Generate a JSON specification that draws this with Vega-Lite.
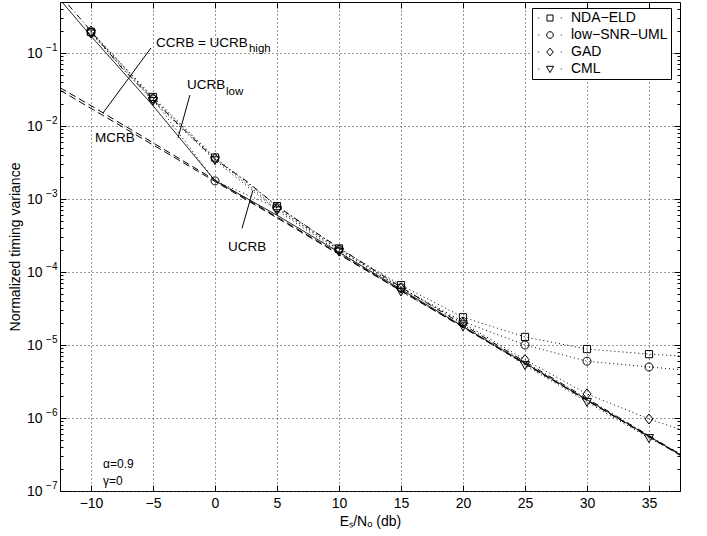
{
  "$schema": "https://vega.github.io/schema/vega-lite/v6.json",
  "width": 620,
  "height": 489,
  "autosize": {"type": "none"},
  "padding": {"left": 60, "top": 2, "right": 27, "bottom": 45},
  "background": "white",
  "config": {
    "font": "Liberation Sans",
    "view": {"stroke": "#000", "strokeWidth": 1},
    "axis": {
      "domain": false,
      "labelFont": "Liberation Sans",
      "labelFontSize": 14,
      "labelColor": "#000",
      "titleFont": "Liberation Sans",
      "titleFontSize": 14,
      "titleFontWeight": "normal",
      "titleColor": "#000",
      "tickColor": "#000",
      "tickWidth": 1,
      "gridColor": "#333",
      "gridDash": [1, 3],
      "gridWidth": 1,
      "labelFlush": false
    }
  },
  "datasets": {
    "est": [
      {"s": "NDA−ELD", "x": -10, "y": 0.195},
      {"s": "NDA−ELD", "x": -5, "y": 0.025},
      {"s": "NDA−ELD", "x": 0, "y": 0.0037},
      {"s": "NDA−ELD", "x": 5, "y": 0.0008},
      {"s": "NDA−ELD", "x": 10, "y": 0.00021},
      {"s": "NDA−ELD", "x": 15, "y": 0.000066},
      {"s": "NDA−ELD", "x": 20, "y": 0.000024},
      {"s": "NDA−ELD", "x": 25, "y": 0.0000129},
      {"s": "NDA−ELD", "x": 30, "y": 0.0000088},
      {"s": "NDA−ELD", "x": 35, "y": 0.0000075},
      {"s": "NDA−ELD", "x": 37.5, "y": 0.0000071},
      {"s": "low−SNR−UML", "x": -10, "y": 0.19},
      {"s": "low−SNR−UML", "x": -5, "y": 0.0235},
      {"s": "low−SNR−UML", "x": 0, "y": 0.00177},
      {"s": "low−SNR−UML", "x": 5, "y": 0.00076},
      {"s": "low−SNR−UML", "x": 10, "y": 0.000205},
      {"s": "low−SNR−UML", "x": 15, "y": 0.000061},
      {"s": "low−SNR−UML", "x": 20, "y": 0.000021},
      {"s": "low−SNR−UML", "x": 25, "y": 0.00001},
      {"s": "low−SNR−UML", "x": 30, "y": 0.000006},
      {"s": "low−SNR−UML", "x": 35, "y": 0.000005},
      {"s": "low−SNR−UML", "x": 37.5, "y": 0.0000046},
      {"s": "GAD", "x": -10, "y": 0.2},
      {"s": "GAD", "x": -5, "y": 0.024},
      {"s": "GAD", "x": 0, "y": 0.0036},
      {"s": "GAD", "x": 5, "y": 0.00074},
      {"s": "GAD", "x": 10, "y": 0.0002},
      {"s": "GAD", "x": 15, "y": 0.00006},
      {"s": "GAD", "x": 20, "y": 0.00002},
      {"s": "GAD", "x": 25, "y": 0.0000063},
      {"s": "GAD", "x": 30, "y": 0.00000214},
      {"s": "GAD", "x": 35, "y": 0.00000097},
      {"s": "GAD", "x": 37.5, "y": 0.0000007},
      {"s": "CML", "x": -10, "y": 0.185},
      {"s": "CML", "x": -5, "y": 0.022},
      {"s": "CML", "x": 0, "y": 0.0034},
      {"s": "CML", "x": 5, "y": 0.0007},
      {"s": "CML", "x": 10, "y": 0.00019},
      {"s": "CML", "x": 15, "y": 0.000054},
      {"s": "CML", "x": 20, "y": 0.000018},
      {"s": "CML", "x": 25, "y": 0.0000053},
      {"s": "CML", "x": 30, "y": 0.00000166},
      {"s": "CML", "x": 35, "y": 0.00000053},
      {"s": "CML", "x": 37.5, "y": 0.00000033}
    ],
    "bnd": [
      {"b": "MCRB", "x": -12.5, "y": 0.031},
      {"b": "MCRB", "x": 37.5, "y": 0.00000031},
      {"b": "CCRB", "x": -12.5, "y": 0.0335},
      {"b": "CCRB", "x": -10, "y": 0.019},
      {"b": "CCRB", "x": -5, "y": 0.0059},
      {"b": "CCRB", "x": 0, "y": 0.00182},
      {"b": "CCRB", "x": 5, "y": 0.000566},
      {"b": "CCRB", "x": 10, "y": 0.000178},
      {"b": "CCRB", "x": 20, "y": 0.0000176},
      {"b": "CCRB", "x": 37.5, "y": 0.000000312},
      {"b": "UCRBlow", "x": -12.5, "y": 0.54},
      {"b": "UCRBlow", "x": -10, "y": 0.17},
      {"b": "UCRBlow", "x": -5, "y": 0.019},
      {"b": "UCRBlow", "x": 0, "y": 0.00178},
      {"b": "UCRBlow", "x": 5, "y": 0.0006},
      {"b": "UCRBlow", "x": 10, "y": 0.000186},
      {"b": "UCRBlow", "x": 20, "y": 0.000018},
      {"b": "UCRBlow", "x": 30, "y": 0.00000178},
      {"b": "UCRBlow", "x": 37.5, "y": 0.000000315},
      {"b": "UCRB", "x": -12.5, "y": 0.62},
      {"b": "UCRB", "x": -10, "y": 0.2},
      {"b": "UCRB", "x": -7.5, "y": 0.062},
      {"b": "UCRB", "x": -5, "y": 0.023},
      {"b": "UCRB", "x": -2.5, "y": 0.0089},
      {"b": "UCRB", "x": 0, "y": 0.0035},
      {"b": "UCRB", "x": 2.5, "y": 0.00178},
      {"b": "UCRB", "x": 5, "y": 0.0008},
      {"b": "UCRB", "x": 7.5, "y": 0.00041},
      {"b": "UCRB", "x": 10, "y": 0.000215},
      {"b": "UCRB", "x": 15, "y": 0.000062},
      {"b": "UCRB", "x": 20, "y": 0.000019},
      {"b": "UCRB", "x": 25, "y": 0.0000059},
      {"b": "UCRB", "x": 30, "y": 0.00000185},
      {"b": "UCRB", "x": 37.5, "y": 0.00000032}
    ],
    "ptr": [
      {"x": -5.16, "y": 0.1175, "x2": -9.03, "y2": 0.0151},
      {"x": -2.02, "y": 0.0266, "x2": -2.98, "y2": 0.0069},
      {"x": 2.18, "y": 0.000398, "x2": 3.06, "y2": 0.00132}
    ],
    "lab": [
      {"t": "CCRB = UCRB", "x": -4.76, "y": 0.138},
      {"t": "UCRB", "x": -2.26, "y": 0.0363},
      {"t": "MCRB", "x": -9.68, "y": 0.00686},
      {"t": "UCRB", "x": 1.05, "y": 0.00022}
    ],
    "sub": [
      {"t": "high", "x": 2.74, "y": 0.1135},
      {"t": "low", "x": 0.89, "y": 0.0292}
    ],
    "par": [
      {"t": "α=0.9", "x": -9.03, "y": 0.000000234},
      {"t": "γ=0", "x": -9.03, "y": 0.000000138}
    ],
    "leg": [
      {"s": "NDA−ELD", "x": 0, "y": 0.000000001},
      {"s": "low−SNR−UML", "x": 0, "y": 0.000000001},
      {"s": "GAD", "x": 0, "y": 0.000000001},
      {"s": "CML", "x": 0, "y": 0.000000001}
    ]
  },
  "layer": [
    {
      "data": {"name": "est"},
      "mark": {"type": "line", "color": "#000", "strokeWidth": 1, "strokeDash": [1, 3], "clip": true},
      "encoding": {
        "x": {
          "field": "x", "type": "quantitative",
          "scale": {"domain": [-12.5, 37.5], "nice": false, "zero": false},
          "axis": {
            "orient": "bottom",
            "values": [-10, -5, 0, 5, 10, 15, 20, 25, 30, 35],
            "grid": true,
            "tickSize": -6,
            "labelPadding": 11,
            "title": "Eₛ/Nₒ (db)",
            "titlePadding": 4
          }
        },
        "y": {
          "field": "y", "type": "quantitative",
          "scale": {"type": "log", "domain": [0.0000001, 0.5], "nice": false},
          "axis": {
            "orient": "left",
            "values": [1e-7, 2e-7, 3e-7, 4e-7, 5e-7, 6e-7, 7e-7, 8e-7, 9e-7, 1e-6, 2e-6, 3e-6, 4e-6, 5e-6, 6e-6, 7e-6, 8e-6, 9e-6, 1e-5, 2e-5, 3e-5, 4e-5, 5e-5, 6e-5, 7e-5, 8e-5, 9e-5, 1e-4, 2e-4, 3e-4, 4e-4, 5e-4, 6e-4, 7e-4, 8e-4, 9e-4, 0.001, 0.002, 0.003, 0.004, 0.005, 0.006, 0.007, 0.008, 0.009, 0.01, 0.02, 0.03, 0.04, 0.05, 0.06, 0.07, 0.08, 0.09, 0.1, 0.2, 0.3, 0.4],
            "grid": true,
            "gridOpacity": {"condition": {"test": "abs(log(datum.value)/LN10 - round(log(datum.value)/LN10)) < 0.001", "value": 1}, "value": 0},
            "tickSize": {"condition": {"test": "abs(log(datum.value)/LN10 - round(log(datum.value)/LN10)) < 0.001", "value": -6}, "value": -3},
            "labelExpr": "abs(log(datum.value)/LN10 - round(log(datum.value)/LN10)) < 0.001 ? '10' : ''",
            "labelPadding": 24,
            "title": "Normalized timing variance",
            "titlePadding": 4
          }
        },
        "detail": {"field": "s"}
      }
    },
    {
      "data": {"name": "est"},
      "transform": [{"filter": "datum.x <= 35"}],
      "mark": {"type": "point", "filled": false, "color": "#000", "strokeWidth": 1, "size": 100, "opacity": 1, "clip": true},
      "encoding": {
        "x": {
          "field": "x", "type": "quantitative",
          "axis": {"orient": "top", "values": [-10, -5, 0, 5, 10, 15, 20, 25, 30, 35], "grid": false, "labels": false, "tickSize": -6, "title": null}
        },
        "y": {
          "field": "y", "type": "quantitative",
          "axis": {
            "orient": "right",
            "values": [1e-7, 2e-7, 3e-7, 4e-7, 5e-7, 6e-7, 7e-7, 8e-7, 9e-7, 1e-6, 2e-6, 3e-6, 4e-6, 5e-6, 6e-6, 7e-6, 8e-6, 9e-6, 1e-5, 2e-5, 3e-5, 4e-5, 5e-5, 6e-5, 7e-5, 8e-5, 9e-5, 1e-4, 2e-4, 3e-4, 4e-4, 5e-4, 6e-4, 7e-4, 8e-4, 9e-4, 0.001, 0.002, 0.003, 0.004, 0.005, 0.006, 0.007, 0.008, 0.009, 0.01, 0.02, 0.03, 0.04, 0.05, 0.06, 0.07, 0.08, 0.09, 0.1, 0.2, 0.3, 0.4],
            "grid": false,
            "labels": false,
            "tickSize": {"condition": {"test": "abs(log(datum.value)/LN10 - round(log(datum.value)/LN10)) < 0.001", "value": -6}, "value": -3},
            "title": null
          }
        },
        "shape": {
          "field": "s", "type": "nominal",
          "scale": {
            "domain": ["NDA−ELD", "low−SNR−UML", "GAD", "CML"],
            "range": [
              "M-0.72,-0.72H0.72V0.72H-0.72Z",
              "M0.8,0A0.8,0.8 0 1,1 -0.8,0A0.8,0.8 0 1,1 0.8,0Z",
              "M0,-1L0.8,0L0,1L-0.8,0Z",
              "M-0.9,-0.7L0.9,-0.7L0,0.9Z"
            ]
          },
          "legend": null
        }
      }
    },
    {
      "data": {"name": "bnd"},
      "mark": {"type": "line", "color": "#000", "strokeWidth": 1, "clip": true},
      "encoding": {
        "x": {"field": "x", "type": "quantitative", "axis": null},
        "y": {
          "field": "y", "type": "quantitative",
          "axis": {
            "orient": "left",
            "values": [1e-7, 1e-6, 1e-5, 1e-4, 0.001, 0.01, 0.1],
            "ticks": false,
            "grid": false,
            "labelExpr": "['⁰','−1','−2','−3','−4','−5','−6','−7'][-round(log(datum.value)/LN10)]",
            "labelFontSize": 10,
            "labelPadding": 3,
            "labelOffset": -6,
            "title": null
          }
        },
        "strokeDash": {
          "field": "b", "type": "nominal",
          "scale": {"domain": ["UCRBlow", "MCRB", "CCRB", "UCRB"], "range": [[1, 0], [7, 4], [7, 4], [6, 3, 1, 3]]},
          "legend": null
        }
      }
    },
    {
      "data": {"name": "ptr"},
      "mark": {"type": "rule", "color": "#000", "strokeWidth": 1},
      "encoding": {
        "x": {"field": "x", "type": "quantitative", "axis": null},
        "y": {"field": "y", "type": "quantitative", "axis": null},
        "x2": {"field": "x2"},
        "y2": {"field": "y2"}
      }
    },
    {
      "data": {"name": "lab"},
      "mark": {"type": "text", "align": "left", "baseline": "middle", "fontSize": 13.5, "color": "#000"},
      "encoding": {
        "x": {"field": "x", "type": "quantitative", "axis": null},
        "y": {"field": "y", "type": "quantitative", "axis": null},
        "text": {"field": "t"}
      }
    },
    {
      "data": {"name": "sub"},
      "mark": {"type": "text", "align": "left", "baseline": "middle", "fontSize": 11.5, "color": "#000"},
      "encoding": {
        "x": {"field": "x", "type": "quantitative", "axis": null},
        "y": {"field": "y", "type": "quantitative", "axis": null},
        "text": {"field": "t"}
      }
    },
    {
      "data": {"name": "par"},
      "mark": {"type": "text", "align": "left", "baseline": "middle", "fontSize": 12, "color": "#000"},
      "encoding": {
        "x": {"field": "x", "type": "quantitative", "axis": null},
        "y": {"field": "y", "type": "quantitative", "axis": null},
        "text": {"field": "t"}
      }
    },
    {
      "data": {"name": "leg"},
      "mark": {"type": "point", "filled": false, "color": "#000", "strokeWidth": 1, "size": 144, "opacity": 1, "clip": true},
      "encoding": {
        "x": {"field": "x", "type": "quantitative", "axis": null},
        "y": {"field": "y", "type": "quantitative", "axis": null},
        "shape": {
          "field": "s", "type": "nominal",
          "scale": {
            "domain": ["NDA−ELD", "low−SNR−UML", "GAD", "CML"],
            "range": [
              "M-0.5,-0.5H0.5V0.5H-0.5ZM-1.95,0H-1.8M1.8,0H1.95",
              "M0.55,0A0.55,0.55 0 1,1 -0.55,0A0.55,0.55 0 1,1 0.55,0ZM-1.95,0H-1.8M1.8,0H1.95",
              "M0,-0.65L0.55,0L0,0.65L-0.55,0ZM-1.95,0H-1.8M1.8,0H1.95",
              "M-0.6,-0.45L0.6,-0.45L0,0.6ZM-1.95,0H-1.8M1.8,0H1.95"
            ]
          },
          "legend": {
            "orient": "none",
            "legendX": 472,
            "legendY": 6,
            "title": null,
            "padding": 3,
            "symbolOffset": 8,
            "labelOffset": 14,
            "rowPadding": 3,
            "strokeColor": "#000",
            "fillColor": "#fff",
            "symbolSize": 144,
            "symbolStrokeWidth": 1,
            "symbolStrokeColor": "#000",
            "symbolFillColor": "transparent",
            "symbolOpacity": 1,
            "labelFontSize": 14,
            "labelColor": "#000",
            "labelFont": "Liberation Sans"
          }
        }
      }
    }
  ],
  "resolve": {
    "axis": {"x": "independent", "y": "independent"},
    "scale": {"shape": "independent"}
  }
}
